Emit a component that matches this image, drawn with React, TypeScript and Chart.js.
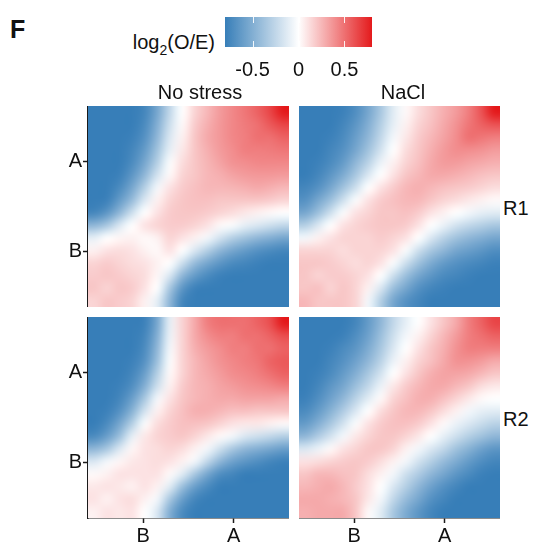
import React, { useEffect, useRef } from 'react';
import { Chart, registerables } from 'chart.js';

Chart.register(...registerables);

const FONT = '"Liberation Sans", Arial, Helvetica, sans-serif';
const TEXT_COLOR = '#111111';
const AXIS_COLOR = '#1a1a1a';

// ---------- chart text / axes ----------
const panelLetter = 'F';
const conditions = ['No stress', 'NaCl'];
const replicates = ['R1', 'R2'];
const axisLabels = ['B', 'A'];
const axisTickPositions = [4.4, 11.6]; // positions on the 16-bin axis
const legendTicks = [-0.5, 0, 0.5];
const colorLimit = 0.8;

// ---------- saddle values, log2(O/E); rows listed from top (A) to bottom (B), columns from B (left) to A (right) ----------
const noStressR1: number[][] = [
  [-0.8, -0.8, -0.8, -0.8, -0.75, -0.55, -0.25, 0, 0.15, 0.25, 0.35, 0.42, 0.48, 0.55, 0.65, 0.8],
  [-0.8, -0.8, -0.8, -0.8, -0.72, -0.5, -0.2, 0.02, 0.18, 0.28, 0.36, 0.42, 0.46, 0.5, 0.58, 0.65],
  [-0.8, -0.8, -0.8, -0.78, -0.68, -0.45, -0.15, 0.05, 0.2, 0.3, 0.36, 0.42, 0.45, 0.5, 0.5, 0.55],
  [-0.8, -0.8, -0.8, -0.75, -0.62, -0.38, -0.1, 0.08, 0.2, 0.28, 0.35, 0.4, 0.45, 0.45, 0.46, 0.48],
  [-0.8, -0.8, -0.8, -0.72, -0.55, -0.3, -0.02, 0.12, 0.2, 0.26, 0.32, 0.38, 0.4, 0.42, 0.42, 0.42],
  [-0.8, -0.8, -0.78, -0.65, -0.45, -0.18, 0.02, 0.15, 0.2, 0.25, 0.28, 0.32, 0.35, 0.36, 0.36, 0.35],
  [-0.8, -0.8, -0.72, -0.55, -0.3, -0.05, 0.1, 0.18, 0.22, 0.25, 0.25, 0.26, 0.28, 0.3, 0.28, 0.25],
  [-0.8, -0.78, -0.62, -0.42, -0.15, 0.05, 0.15, 0.2, 0.22, 0.22, 0.2, 0.2, 0.2, 0.2, 0.18, 0.15],
  [-0.75, -0.65, -0.45, -0.2, 0, 0.1, 0.18, 0.2, 0.2, 0.18, 0.15, 0.12, 0.08, 0.05, 0.02, 0],
  [-0.45, -0.35, -0.15, 0, 0.1, 0.15, 0.18, 0.18, 0.15, 0.1, 0.02, -0.02, -0.1, -0.15, -0.2, -0.25],
  [-0.1, 0, 0.03, 0.05, 0.02, 0.05, 0.15, 0.1, 0.05, -0.05, -0.18, -0.3, -0.38, -0.45, -0.5, -0.55],
  [0.05, 0.1, 0.12, 0.1, 0.05, 0.02, 0.1, 0, -0.15, -0.3, -0.45, -0.55, -0.62, -0.68, -0.72, -0.75],
  [0.15, 0.18, 0.15, 0.12, 0.1, 0.05, 0, -0.2, -0.42, -0.55, -0.65, -0.72, -0.75, -0.78, -0.8, -0.8],
  [0.18, 0.2, 0.18, 0.15, 0.12, 0.03, -0.15, -0.45, -0.62, -0.72, -0.78, -0.8, -0.8, -0.8, -0.8, -0.8],
  [0.2, 0.15, 0.2, 0.18, 0.1, 0, -0.35, -0.65, -0.78, -0.8, -0.8, -0.8, -0.8, -0.8, -0.8, -0.8],
  [0.15, 0.2, 0.18, 0.15, 0.05, -0.1, -0.45, -0.75, -0.8, -0.8, -0.8, -0.8, -0.8, -0.8, -0.8, -0.8],
];

const naclR1: number[][] = [
  [-0.8, -0.8, -0.8, -0.78, -0.7, -0.55, -0.35, -0.12, 0.02, 0.12, 0.2, 0.28, 0.35, 0.45, 0.6, 0.8],
  [-0.8, -0.8, -0.8, -0.75, -0.65, -0.5, -0.3, -0.1, 0.05, 0.15, 0.22, 0.3, 0.38, 0.48, 0.55, 0.6],
  [-0.8, -0.8, -0.78, -0.72, -0.6, -0.45, -0.25, -0.05, 0.08, 0.18, 0.25, 0.32, 0.4, 0.5, 0.48, 0.45],
  [-0.8, -0.8, -0.75, -0.68, -0.55, -0.38, -0.18, 0, 0.12, 0.2, 0.28, 0.35, 0.4, 0.4, 0.38, 0.35],
  [-0.8, -0.78, -0.72, -0.62, -0.45, -0.28, -0.08, 0.05, 0.15, 0.22, 0.3, 0.35, 0.35, 0.32, 0.3, 0.28],
  [-0.8, -0.75, -0.65, -0.52, -0.35, -0.15, 0, 0.1, 0.2, 0.25, 0.3, 0.3, 0.28, 0.25, 0.22, 0.2],
  [-0.75, -0.68, -0.55, -0.38, -0.2, 0, 0.1, 0.18, 0.25, 0.28, 0.25, 0.22, 0.2, 0.18, 0.15, 0.12],
  [-0.68, -0.55, -0.4, -0.2, -0.02, 0.1, 0.18, 0.22, 0.25, 0.25, 0.2, 0.15, 0.12, 0.08, 0.05, 0.02],
  [-0.55, -0.4, -0.2, -0.02, 0.1, 0.15, 0.2, 0.2, 0.22, 0.18, 0.1, 0.05, 0, -0.05, -0.1, -0.12],
  [-0.3, -0.15, 0, 0.1, 0.15, 0.18, 0.2, 0.2, 0.18, 0.1, 0, -0.08, -0.18, -0.25, -0.3, -0.35],
  [-0.05, 0.05, 0.1, 0.15, 0.15, 0.15, 0.18, 0.15, 0.1, 0, -0.15, -0.28, -0.38, -0.45, -0.5, -0.55],
  [0.15, 0.15, 0.15, 0.12, 0.15, 0.15, 0.15, 0.1, -0.02, -0.2, -0.35, -0.45, -0.55, -0.6, -0.65, -0.7],
  [0.2, 0.2, 0.18, 0.15, 0.12, 0.15, 0.1, -0.02, -0.2, -0.38, -0.52, -0.62, -0.68, -0.72, -0.75, -0.78],
  [0.2, 0.15, 0.18, 0.18, 0.15, 0.1, 0, -0.2, -0.4, -0.55, -0.65, -0.72, -0.75, -0.78, -0.8, -0.8],
  [0.2, 0.22, 0.15, 0.2, 0.15, 0.05, -0.15, -0.4, -0.55, -0.68, -0.75, -0.78, -0.8, -0.8, -0.8, -0.8],
  [0.25, 0.2, 0.2, 0.2, 0.15, -0.05, -0.3, -0.55, -0.68, -0.75, -0.8, -0.8, -0.8, -0.8, -0.8, -0.8],
];

const noStressR2: number[][] = [
  [-0.8, -0.8, -0.8, -0.8, -0.78, -0.55, -0.1, 0.15, 0.3, 0.45, 0.5, 0.5, 0.5, 0.55, 0.62, 0.8],
  [-0.8, -0.8, -0.8, -0.8, -0.75, -0.5, -0.08, 0.15, 0.3, 0.4, 0.45, 0.45, 0.5, 0.5, 0.55, 0.62],
  [-0.8, -0.8, -0.8, -0.8, -0.72, -0.45, -0.05, 0.15, 0.28, 0.35, 0.4, 0.45, 0.45, 0.5, 0.5, 0.55],
  [-0.8, -0.8, -0.8, -0.78, -0.68, -0.4, -0.02, 0.15, 0.25, 0.32, 0.38, 0.42, 0.45, 0.48, 0.55, 0.58],
  [-0.8, -0.8, -0.8, -0.75, -0.6, -0.3, 0.02, 0.15, 0.25, 0.3, 0.35, 0.4, 0.42, 0.45, 0.5, 0.55],
  [-0.8, -0.8, -0.78, -0.7, -0.5, -0.2, 0.05, 0.18, 0.25, 0.28, 0.32, 0.35, 0.38, 0.4, 0.42, 0.45],
  [-0.8, -0.8, -0.75, -0.6, -0.35, -0.05, 0.1, 0.2, 0.25, 0.28, 0.3, 0.3, 0.32, 0.32, 0.32, 0.3],
  [-0.8, -0.78, -0.68, -0.48, -0.18, 0.05, 0.15, 0.22, 0.28, 0.28, 0.25, 0.22, 0.22, 0.2, 0.2, 0.2],
  [-0.8, -0.72, -0.55, -0.3, -0.02, 0.12, 0.18, 0.22, 0.22, 0.2, 0.15, 0.1, 0.08, 0.08, 0.05, 0.02],
  [-0.72, -0.6, -0.4, -0.1, 0.08, 0.15, 0.18, 0.2, 0.15, 0.08, 0.02, -0.05, -0.15, -0.2, -0.25, -0.3],
  [-0.45, -0.35, -0.15, 0.03, 0.1, 0.12, 0.15, 0.12, 0.05, -0.05, -0.2, -0.35, -0.45, -0.5, -0.55, -0.6],
  [-0.15, -0.05, 0.03, 0.08, 0.1, 0.12, 0.1, 0.05, -0.05, -0.25, -0.45, -0.58, -0.65, -0.7, -0.75, -0.78],
  [0.02, 0.05, 0.1, 0.1, 0.1, 0.1, 0.02, -0.12, -0.35, -0.55, -0.7, -0.75, -0.8, -0.8, -0.8, -0.8],
  [0.08, 0.1, 0.08, 0.05, 0.1, 0.05, -0.12, -0.4, -0.6, -0.72, -0.8, -0.8, -0.8, -0.8, -0.8, -0.8],
  [0.1, 0.05, 0.1, 0.12, 0.05, -0.05, -0.35, -0.6, -0.75, -0.8, -0.8, -0.8, -0.8, -0.8, -0.8, -0.8],
  [0.05, 0.1, 0.08, 0.1, 0, -0.15, -0.5, -0.72, -0.8, -0.8, -0.8, -0.8, -0.8, -0.8, -0.8, -0.8],
];

const naclR2: number[][] = [
  [-0.8, -0.8, -0.8, -0.8, -0.75, -0.62, -0.45, -0.25, -0.1, 0, 0.1, 0.2, 0.3, 0.45, 0.55, 0.65],
  [-0.8, -0.8, -0.8, -0.78, -0.7, -0.58, -0.4, -0.2, -0.05, 0.05, 0.15, 0.25, 0.35, 0.45, 0.5, 0.55],
  [-0.8, -0.8, -0.78, -0.72, -0.65, -0.52, -0.35, -0.15, 0, 0.1, 0.2, 0.28, 0.38, 0.45, 0.45, 0.45],
  [-0.8, -0.8, -0.75, -0.68, -0.58, -0.45, -0.28, -0.08, 0.05, 0.15, 0.22, 0.3, 0.38, 0.38, 0.35, 0.3],
  [-0.8, -0.78, -0.72, -0.62, -0.5, -0.35, -0.18, 0, 0.1, 0.2, 0.28, 0.32, 0.32, 0.3, 0.25, 0.2],
  [-0.8, -0.75, -0.65, -0.55, -0.4, -0.25, -0.08, 0.08, 0.18, 0.25, 0.3, 0.3, 0.25, 0.2, 0.12, 0.08],
  [-0.78, -0.7, -0.58, -0.45, -0.28, -0.12, 0.02, 0.15, 0.22, 0.28, 0.28, 0.22, 0.15, 0.08, 0.02, 0],
  [-0.72, -0.62, -0.48, -0.32, -0.15, 0, 0.12, 0.2, 0.25, 0.25, 0.2, 0.12, 0.05, -0.05, -0.1, -0.12],
  [-0.62, -0.5, -0.35, -0.18, -0.02, 0.1, 0.18, 0.22, 0.22, 0.18, 0.1, 0.02, -0.08, -0.15, -0.22, -0.28],
  [-0.45, -0.32, -0.18, -0.05, 0.08, 0.15, 0.2, 0.2, 0.15, 0.08, 0, -0.1, -0.2, -0.3, -0.38, -0.45],
  [-0.15, -0.08, 0.02, 0.1, 0.15, 0.2, 0.2, 0.15, 0.05, -0.05, -0.15, -0.25, -0.38, -0.48, -0.58, -0.65],
  [0.1, 0.12, 0.15, 0.18, 0.2, 0.18, 0.12, 0.05, -0.05, -0.18, -0.3, -0.42, -0.52, -0.62, -0.7, -0.75],
  [0.2, 0.25, 0.25, 0.22, 0.2, 0.12, 0.05, -0.05, -0.2, -0.32, -0.45, -0.55, -0.65, -0.72, -0.78, -0.8],
  [0.25, 0.28, 0.3, 0.25, 0.18, 0.1, 0, -0.15, -0.3, -0.45, -0.58, -0.68, -0.75, -0.8, -0.8, -0.8],
  [0.3, 0.3, 0.28, 0.25, 0.2, 0.08, -0.05, -0.25, -0.42, -0.55, -0.68, -0.75, -0.8, -0.8, -0.8, -0.8],
  [0.28, 0.3, 0.3, 0.3, 0.2, 0.02, -0.12, -0.35, -0.52, -0.65, -0.75, -0.8, -0.8, -0.8, -0.8, -0.8],
];

// ---------- colour scale (blue - white - red) ----------
const LOW_RGB = [55, 126, 184];
const MID_RGB = [255, 255, 255];
const HIGH_RGB = [228, 26, 28];

function heat(v: number): string {
  const t = Math.max(-1, Math.min(1, v / colorLimit));
  const end = t < 0 ? LOW_RGB : HIGH_RGB;
  const a = Math.abs(t);
  const c = MID_RGB.map((m, k) => Math.round(m + (end[k] - m) * a));
  return `rgb(${c[0]},${c[1]},${c[2]})`;
}

// Interpolated raster rendering (like geom_raster(interpolate = TRUE)):
// takes the drawn bar cells and re-renders them smoothly over the chart area.
const rasterSmooth = {
  id: 'rasterSmooth',
  afterDatasetsDraw(chart: any) {
    const meta = chart.getDatasetMeta(0);
    const xs = chart.scales.x;
    const ys = chart.scales.y;
    const area = chart.chartArea;
    const cols = Math.round(xs.max - xs.min);
    const rows = Math.round(ys.max - ys.min);
    const off = document.createElement('canvas');
    off.width = cols;
    off.height = rows;
    const octx = off.getContext('2d') as CanvasRenderingContext2D;
    const colors = chart.data.datasets[0].backgroundColor;
    meta.data.forEach((el: any, idx: number) => {
      const col = Math.floor(xs.getValueForPixel(el.x) - xs.min);
      const row = Math.floor(ys.getValueForPixel((el.y + el.base) / 2) - ys.min);
      octx.fillStyle = colors[idx];
      octx.fillRect(col, rows - 1 - row, 1, 1);
    });
    const ctx = chart.ctx;
    const x0 = xs.getPixelForValue(xs.min);
    const x1 = xs.getPixelForValue(xs.max);
    const y0 = ys.getPixelForValue(ys.max);
    const y1 = ys.getPixelForValue(ys.min);
    ctx.save();
    ctx.beginPath();
    ctx.rect(area.left, area.top, area.right - area.left, area.bottom - area.top);
    ctx.clip();
    ctx.imageSmoothingEnabled = true;
    ctx.imageSmoothingQuality = 'high';
    ctx.drawImage(off, x0, y0, x1 - x0, y1 - y0);
    ctx.restore();
  },
};

type PanelProps = { matrix: number[][]; left: number; top: number; showX: boolean; showY: boolean };

function HeatPanel({ matrix, left, top, showX, showY }: PanelProps) {
  const ref = useRef<HTMLCanvasElement>(null);
  const width = (showY ? 50 : 0) + 201;
  const height = 201 + (showX ? 25 : 0);
  useEffect(() => {
    const n = matrix.length;
    const points: any[] = [];
    const colors: string[] = [];
    matrix.forEach((row, k) => {
      const j = n - 1 - k;
      row.forEach((v, i) => {
        points.push({ x: i + 0.5, y: [j, j + 1] });
        colors.push(heat(v));
      });
    });
    const axis = (show: boolean) => ({
      type: 'linear',
      min: 0,
      max: n,
      display: show,
      offset: false,
      z: 1,
      border: { display: true, color: AXIS_COLOR, width: 1.5 },
      grid: {
        display: true,
        offset: false,
        drawOnChartArea: false,
        drawTicks: true,
        tickLength: 5,
        tickColor: AXIS_COLOR,
        tickWidth: 1.5,
      },
      ticks: {
        font: { family: FONT, size: 20 },
        color: TEXT_COLOR,
        padding: 1,
        autoSkip: false,
        maxRotation: 0,
        callback: (_v: any, idx: number) => axisLabels[idx],
      },
      afterBuildTicks: (s: any) => {
        s.ticks = axisTickPositions.map((value) => ({ value }));
      },
    });
    const chart = new Chart(ref.current as HTMLCanvasElement, {
      type: 'bar',
      data: {
        datasets: [
          {
            data: points,
            backgroundColor: colors,
            borderWidth: 0,
            inflateAmount: 0.6,
            barPercentage: 1,
            categoryPercentage: 1,
            clip: 0,
          } as any,
        ],
      },
      options: {
        animation: false,
        responsive: false,
        events: [],
        layout: { padding: 0 },
        plugins: { legend: { display: false }, tooltip: { enabled: false } },
        scales: {
          x: {
            ...axis(showX),
            afterFit: (s: any) => {
              s.height = showX ? 25 : 0;
              s.paddingLeft = 0;
              s.paddingRight = 0;
            },
          } as any,
          y: {
            ...axis(showY),
            afterFit: (s: any) => {
              s.width = showY ? 50 : 0;
              s.paddingTop = 0;
              s.paddingBottom = 0;
            },
          } as any,
        },
      },
      plugins: [rasterSmooth],
    });
    return () => chart.destroy();
  }, [matrix, showX, showY]);
  return (
    <canvas
      ref={ref}
      width={width}
      height={height}
      style={{ position: 'absolute', left: showY ? left - 50 : left, top, width, height }}
    />
  );
}

const colorBarTicks = {
  id: 'colorBarTicks',
  afterDatasetsDraw(chart: any) {
    const xs = chart.scales.x;
    const area = chart.chartArea;
    const ctx = chart.ctx;
    ctx.save();
    ctx.strokeStyle = 'rgba(255,255,255,0.9)';
    ctx.lineWidth = 1;
    legendTicks.forEach((v) => {
      const px = Math.round(xs.getPixelForValue(v)) + 0.5;
      ctx.beginPath();
      ctx.moveTo(px, area.top);
      ctx.lineTo(px, area.top + 6);
      ctx.moveTo(px, area.bottom - 6);
      ctx.lineTo(px, area.bottom);
      ctx.stroke();
    });
    ctx.restore();
  },
};

function ColorBar() {
  const ref = useRef<HTMLCanvasElement>(null);
  useEffect(() => {
    const chart = new Chart(ref.current as HTMLCanvasElement, {
      type: 'bar',
      data: {
        labels: [''],
        datasets: [
          {
            data: [[-colorLimit, colorLimit]],
            backgroundColor: (c: any) => {
              const ch = c.chart;
              const xs = ch.scales.x;
              if (!ch.chartArea || !xs) return 'white';
              const g = ch.ctx.createLinearGradient(
                xs.getPixelForValue(-colorLimit), 0, xs.getPixelForValue(colorLimit), 0,
              );
              g.addColorStop(0, heat(-colorLimit));
              g.addColorStop(0.5, heat(0));
              g.addColorStop(1, heat(colorLimit));
              return g;
            },
            borderWidth: 0,
            barPercentage: 1,
            categoryPercentage: 1,
          } as any,
        ],
      },
      options: {
        indexAxis: 'y',
        animation: false,
        responsive: false,
        events: [],
        layout: { padding: 0 },
        plugins: { legend: { display: false }, tooltip: { enabled: false } },
        scales: {
          x: {
            type: 'linear',
            min: -colorLimit,
            max: colorLimit,
            grid: { display: false, drawTicks: false },
            border: { display: false },
            ticks: {
              font: { family: FONT, size: 20 },
              color: TEXT_COLOR,
              padding: 11,
              callback: (v: any) => (v === 0 ? '0' : Number(v).toFixed(1)),
            },
            afterBuildTicks: (s: any) => {
              s.ticks = legendTicks.map((value) => ({ value }));
            },
            afterFit: (s: any) => {
              s.height = 36;
              s.paddingLeft = 0;
              s.paddingRight = 0;
            },
          } as any,
          y: { display: false } as any,
        },
      },
      plugins: [colorBarTicks],
    });
    return () => chart.destroy();
  }, []);
  return (
    <canvas
      ref={ref}
      width={147}
      height={66}
      style={{ position: 'absolute', left: 225, top: 17, width: 147, height: 66 }}
    />
  );
}

type TextProps = { x: number; baseline: number; size?: number; align?: 'left' | 'center' | 'right'; bold?: boolean; children: any };

function Text({ x, baseline, size = 20, align = 'left', bold = false, children }: TextProps) {
  const shift = align === 'center' ? 'translateX(-50%)' : align === 'right' ? 'translateX(-100%)' : 'none';
  return (
    <div
      style={{
        position: 'absolute',
        left: x,
        top: baseline - 0.8465 * size,
        fontFamily: FONT,
        fontSize: size,
        lineHeight: `${size}px`,
        fontWeight: bold ? 700 : 400,
        color: TEXT_COLOR,
        whiteSpace: 'nowrap',
        transform: shift,
      }}
    >
      {children}
    </div>
  );
}

export default function App() {
  return (
    <div
      style={{
        position: 'absolute',
        left: 0,
        top: 0,
        width: 535,
        height: 543,
        background: '#ffffff',
        overflow: 'hidden',
      }}
    >
      <Text x={10} baseline={38} size={25} bold>
        {panelLetter}
      </Text>
      <Text x={215} baseline={49} align="right">
        log
        <span style={{ fontSize: 14, position: 'relative', top: 6 }}>2</span>
        (O/E)
      </Text>
      <ColorBar />
      <Text x={200} baseline={99} align="center">
        {conditions[0]}
      </Text>
      <Text x={403} baseline={99} align="center">
        {conditions[1]}
      </Text>
      <HeatPanel matrix={noStressR1} left={88} top={106} showX={false} showY />
      <HeatPanel matrix={naclR1} left={299} top={106} showX={false} showY={false} />
      <HeatPanel matrix={noStressR2} left={88} top={317} showX showY />
      <HeatPanel matrix={naclR2} left={299} top={317} showX showY={false} />
      <Text x={503} baseline={215}>
        {replicates[0]}
      </Text>
      <Text x={503} baseline={426}>
        {replicates[1]}
      </Text>
    </div>
  );
}
